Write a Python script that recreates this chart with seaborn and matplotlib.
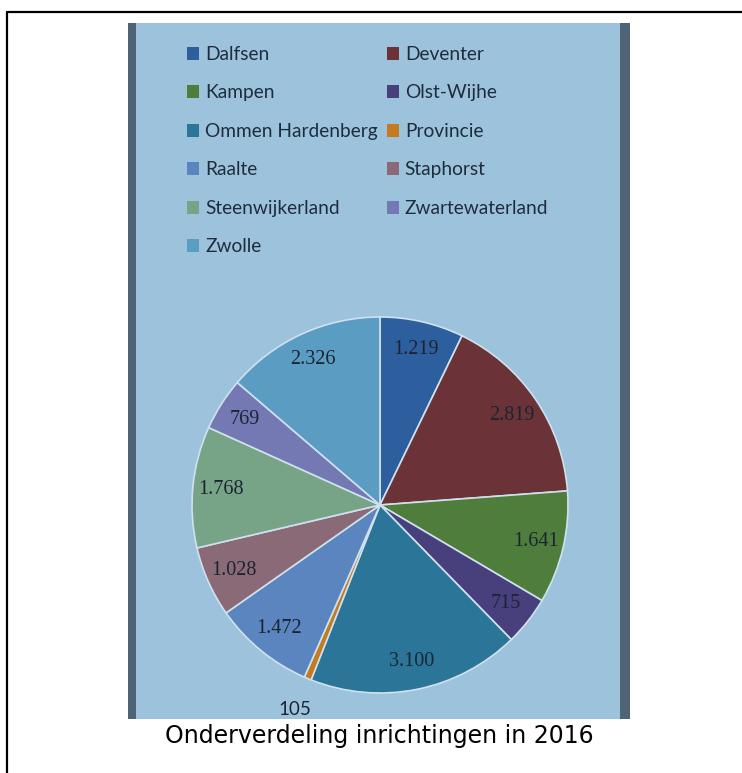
import matplotlib
matplotlib.use("Agg")
import matplotlib.pyplot as plt
from matplotlib.patches import Rectangle, Patch
from matplotlib.lines import Line2D
import numpy as np
import seaborn as sns

gemeenten = ['Dalfsen', 'Deventer', 'Kampen', 'Olst-Wijhe', 'Ommen Hardenberg',
             'Provincie', 'Raalte', 'Staphorst', 'Steenwijkerland',
             'Zwartewaterland', 'Zwolle']
inrichtingen = [1219, 2819, 1641, 715, 3100, 105, 1472, 1028, 1768, 769, 2326]
kleuren = ['#2d5f9e', '#6b3338', '#4e7d3c', '#483f7d', '#2b7698', '#c47a1e',
           '#5a85be', '#8b6a77', '#77a487', '#7479b3', '#5b9cc2']
titel = 'Onderverdeling inrichtingen in 2016'

sns.set_theme(style="white")
plt.rcParams['font.family'] = ['DejaVu Sans']
palet = sns.color_palette(kleuren)

W, H = 742, 773
fig = plt.figure(figsize=(W / 100, H / 100), dpi=100)
fig.patch.set_facecolor('white')


def fx(x):
    return x / W


def fy(y):
    return 1 - y / H


# blauw vlak met donkere randen (achter de taart)
fig.add_artist(Rectangle((fx(128), fy(719)), fx(630) - fx(128), (719 - 23) / H,
                         transform=fig.transFigure, facecolor='#9dc3dc',
                         edgecolor='none', zorder=-3))
fig.add_artist(Rectangle((fx(128), fy(719)), 8 / W, (719 - 23) / H,
                         transform=fig.transFigure, facecolor='#4e6373',
                         edgecolor='none', zorder=-2))
fig.add_artist(Rectangle((fx(620), fy(719)), 10 / W, (719 - 23) / H,
                         transform=fig.transFigure, facecolor='#4e6373',
                         edgecolor='none', zorder=-2))

# zwarte kader
fig.add_artist(Line2D([fx(7), fx(7), fx(745)], [fy(780), fy(12), fy(12)],
                      transform=fig.transFigure, color='black', lw=1.6, zorder=-2))

ax = fig.add_axes([fx(192), fy(693), 376 / W, 376 / H])
ax.patch.set_alpha(0)
wedges, _ = ax.pie(inrichtingen, colors=palet, startangle=90, counterclock=False,
                   wedgeprops=dict(edgecolor='#cfe1ee', linewidth=1.2))
ax.set_xlim(-1, 1)
ax.set_ylim(-1, 1)
ax.set_aspect('equal')
ax.axis('off')

totaal = sum(inrichtingen)
for w, v in zip(wedges, inrichtingen):
    hoek = np.deg2rad((w.theta1 + w.theta2) / 2)
    binnen = v / totaal > 0.02
    r = 0.85 if binnen else 1.18
    ax.text(r * np.cos(hoek), r * np.sin(hoek), f"{v:,}".replace(",", "."),
            ha='center', va='center', fontsize=14.5 if binnen else 13.5,
            family='Liberation Serif' if binnen else 'Lato',
            color='#1c2433')

# legenda rij voor rij
volgorde = [0, 2, 4, 6, 8, 10, 1, 3, 5, 7, 9]
handles = [Patch(facecolor=palet[i], edgecolor='none') for i in volgorde]
namen = [gemeenten[i] for i in volgorde]
leg = fig.legend(handles, namen, loc='upper left', bbox_to_anchor=(fx(187), fy(46)),
                 ncol=2, frameon=False, prop={'family': 'Lato', 'size': 13.8},
                 handlelength=0.65, handleheight=0.65, handletextpad=0.3,
                 labelspacing=1.12, columnspacing=0.45, borderpad=0, borderaxespad=0)
for t in leg.get_texts():
    t.set_color('#1e2d3d')

fig.text(fx(379.5), fy(736), titel, ha='center', va='center', fontsize=17,
         family='DejaVu Sans', color='black')

fig.savefig('out.png', dpi=100)
